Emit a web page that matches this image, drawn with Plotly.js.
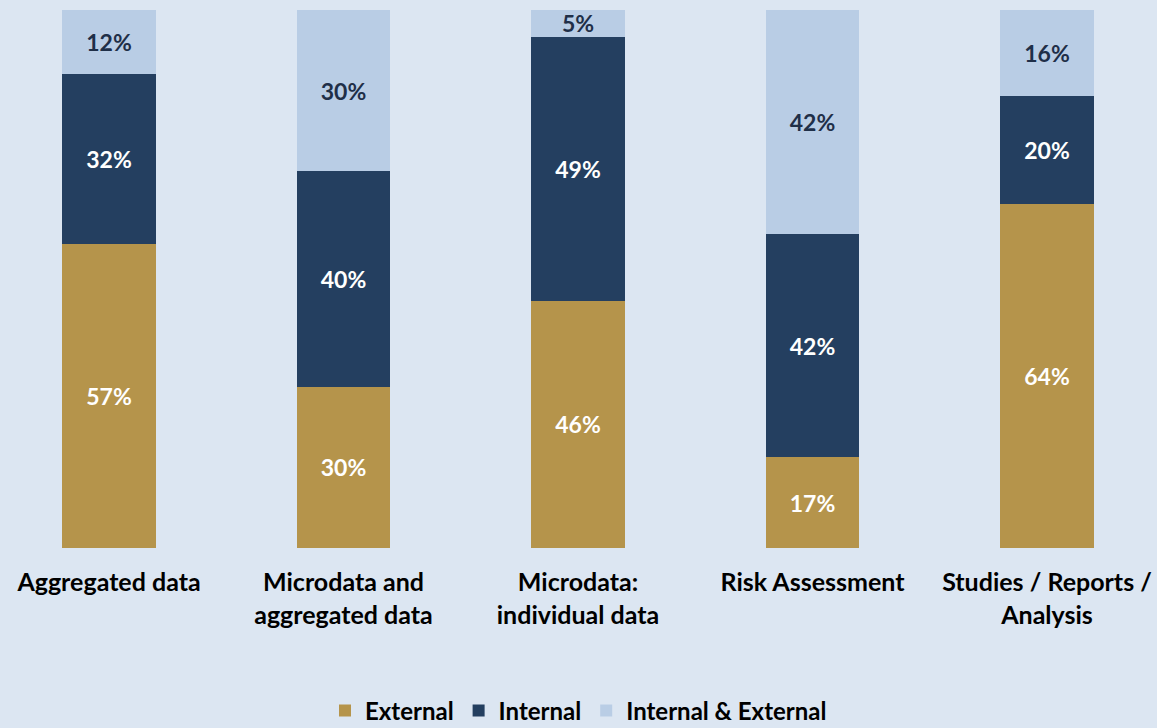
<!DOCTYPE html>
<html>
<head>
<meta charset="utf-8">
<script src="https://cdn.plot.ly/plotly-3.0.1.min.js"></script>
<style>html,body{margin:0;padding:0;background:#dce6f2;}#chart{width:1157px;height:728px;}</style>
</head>
<body>
<div id="chart"></div>
<script>
const categories = ["Aggregated data", "Microdata and<br>aggregated data", "Microdata:<br>individual data", "Risk Assessment", "Studies / Reports /<br>Analysis"];
const externalVals = [57, 30, 46, 17, 64];
const internalVals = [32, 40, 49, 42, 20];
const bothVals = [12, 30, 5, 42, 16];
const seriesNames = ["External", "Internal", "Internal & External"];

const colors = ["#b5944b", "#243f60", "#b9cde5"];
const textColors = ["#ffffff", "#ffffff", "#1f2f48"];
const FONT = "Lato, 'Open Sans', sans-serif";

const vals = [externalVals, internalVals, bothVals];
const traces = vals.map((v, i) => ({
  type: "bar",
  x: categories,
  y: v,
  name: seriesNames[i],
  marker: {color: colors[i], line: {width: 0}},
  text: v.map(d => d + "%"),
  textposition: "inside",
  insidetextanchor: "middle",
  textangle: 0,
  constraintext: "none",
  textfont: {family: FONT, size: 23, color: textColors[i], weight: "bold"},
  hoverinfo: "skip",
  width: 0.4
}));

const layout = {
  width: 1157, height: 728,
  barmode: "stack",
  barnorm: "percent",
  paper_bgcolor: "#dce6f2",
  plot_bgcolor: "#dce6f2",
  margin: {l: 0, r: 0, t: 10, b: 180, autoexpand: false},
  uniformtext: {mode: "show", minsize: 23},
  xaxis: {
    type: "category",
    range: [-0.4648, 4.469],
    showgrid: false, zeroline: false, showline: false,
    ticks: "",
    ticklabelstandoff: 17,
    tickfont: {family: FONT, size: 25, color: "#000000", weight: "bold"},
    automargin: false
  },
  yaxis: {
    range: [0, 100],
    showgrid: false, zeroline: false, showline: false,
    showticklabels: false, ticks: ""
  },
  showlegend: true,
  legend: {
    orientation: "h",
    x: 0.5, xanchor: "center",
    y: -0.303, yanchor: "middle",
    font: {family: FONT, size: 24, color: "#000000", weight: "bold"},
    bgcolor: "rgba(0,0,0,0)",
    itemwidth: 30,
    traceorder: "normal"
  }
};

Plotly.newPlot("chart", traces, layout, {displayModeBar: false, staticPlot: true});
</script>
</body>
</html>
